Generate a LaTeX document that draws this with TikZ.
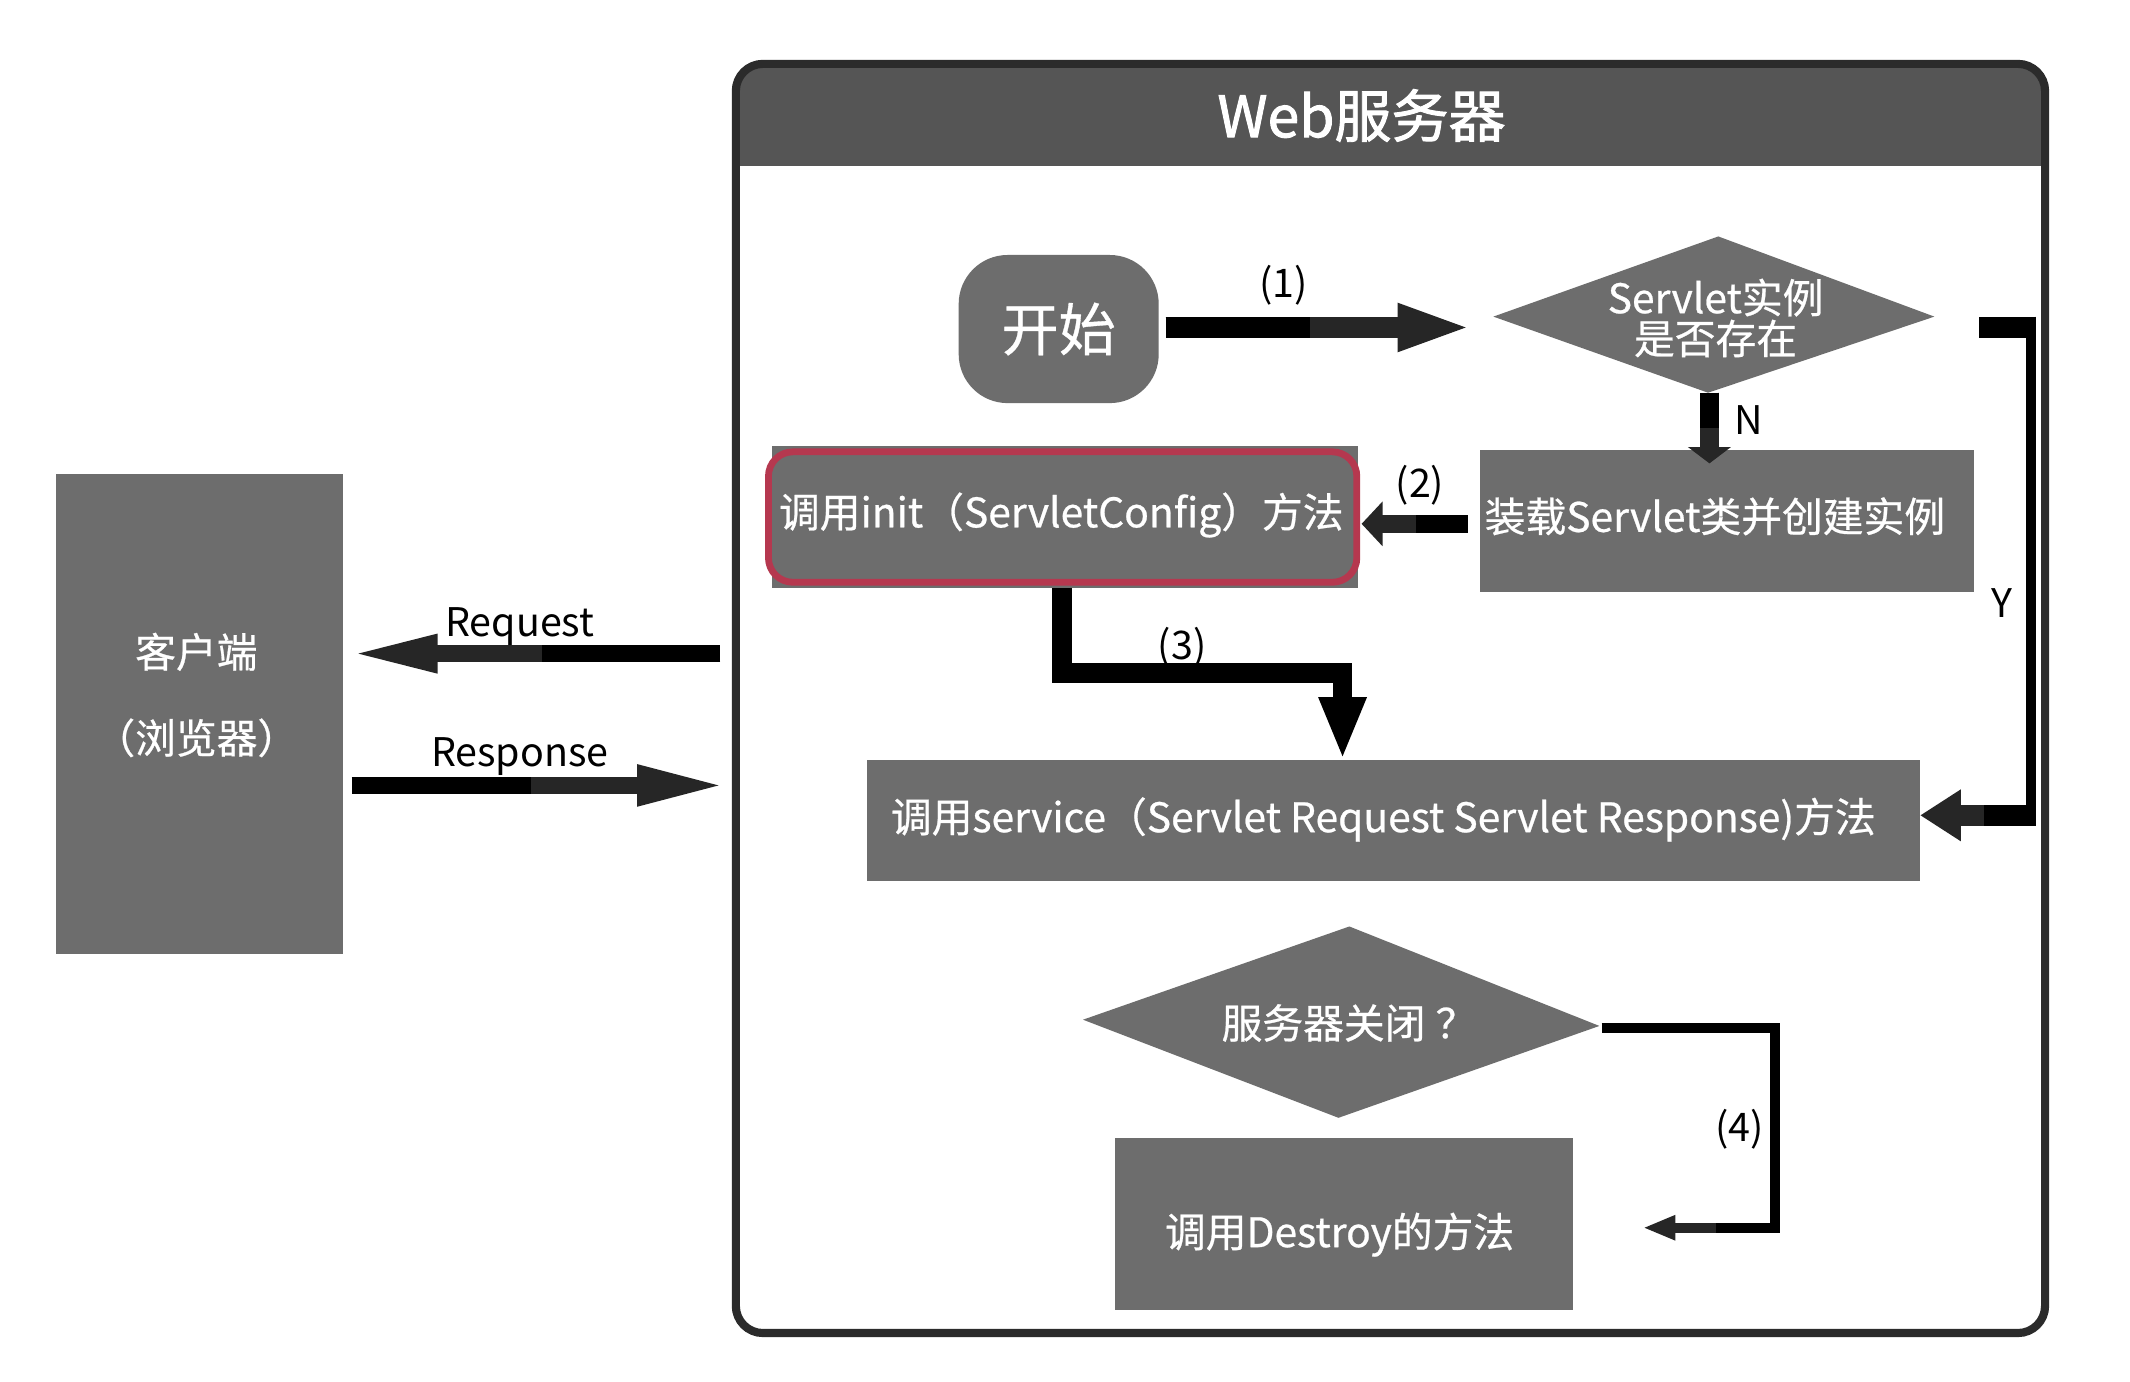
\documentclass[tikz,border=0pt]{standalone}
\usepackage{fontspec}
\setmainfont{Noto Sans CJK SC}
\newfontfamily\medfont{Noto Sans CJK SC}[FakeBold=0.6]
\newfontfamily\titlefont{Noto Sans CJK SC}[FakeBold=1.6]
\usetikzlibrary{arrows.meta}
\definecolor{boxgray}{HTML}{6D6D6D}
\definecolor{headgray}{HTML}{555555}
\definecolor{framec}{HTML}{2B2B2B}
\definecolor{initred}{HTML}{B5384F}
\definecolor{tipc}{HTML}{262626}
\begin{document}
\begin{tikzpicture}[x=0.5pt,y=-0.5pt,
  boxnode/.style={fill=boxgray,draw=none,text=white,inner sep=0pt,
    font=\medfont\fontsize{15}{18}\selectfont},
  txt/.style={text=white,inner sep=0pt,font=\medfont\fontsize{15}{19}\selectfont,align=center},
  lbl/.style={text=black,inner sep=0pt,font=\fontsize{14.5}{17}\selectfont},
  conn/.style={draw=tipc,line join=miter,line cap=butt},
  blk/.style={draw=black,line join=miter,line cap=butt}]
\useasboundingbox (0,0) rectangle (1567.5,1017);
\fill[white] (0,0) rectangle (1567.5,1017);

% ---- Web server frame ----
\begin{scope}
  \clip[rounded corners=10pt] (541.5,47) rectangle (1505,981);
  \fill[headgray] (541.5,47) rectangle (1505,122);
\end{scope}
\draw[framec,line width=3pt,rounded corners=10pt] (541.5,47) rectangle (1505,981);
\node[text=white,inner sep=0pt,font=\titlefont\fontsize{21}{24}\selectfont] (title) at (1002,85) {Web服务器};

% ---- client ----
\node[boxnode,minimum width=105.75pt,minimum height=176.35pt] (client) at (146.75,525.35) {};
\node[txt] (clienta) at (144.5,479.7) {客户端};
\node[txt] (clientb) at (144.5,543) {（浏览器）};

% ---- start ----
\node[boxnode,minimum width=73.6pt,minimum height=54.5pt,rounded corners=18pt,
      font=\medfont\fontsize{21}{24}\selectfont] (start) at (779.1,242.15) {开始};

% ---- decision: servlet exists ----
\coordinate (d1l) at (1099,233);
\coordinate (d1t) at (1264.5,174);
\coordinate (d1r) at (1423.5,233);
\coordinate (d1b) at (1257,289);
\fill[boxgray] (d1l) -- (d1t) -- (d1r) -- (d1b) -- cycle;
\node[txt,font=\medfont\fontsize{15}{15}\selectfont] (d1) at (1262.5,234) {Servlet实例\\是否存在};

% ---- init ----
\fill[boxgray] (568,328) rectangle (999,432.6);
\node[boxnode,draw=initred,line width=2.5pt,rounded corners=9pt,
      minimum width=216.5pt,minimum height=48pt] (init) at (782,380.5) {};
\node[txt] (initt) at (781,379) {调用init（ServletConfig）方法};

% ---- load ----
\node[boxnode,minimum width=182pt,minimum height=52.25pt] (load) at (1271,383.25) {};
\node[txt] (loadt) at (1262,380) {装载Servlet类并创建实例};

% ---- service ----
\node[boxnode,minimum width=387.5pt,minimum height=44.5pt] (service) at (1025.5,603.5) {};
\node[txt] (servicet) at (1018,603) {调用service（Servlet Request Servlet Response)方法};

% ---- decision: shutdown ----
\coordinate (d2l) at (797,750.4);
\coordinate (d2t) at (993,681.8);
\coordinate (d2r) at (1177,755);
\coordinate (d2b) at (985,822.6);
\fill[boxgray] (d2l) -- (d2t) -- (d2r) -- (d2b) -- cycle;
\node[txt] (d2) at (989,752.8) {服务器关闭\hspace{0.25em}？\hspace{-0.25em}};

% ---- destroy ----
\node[boxnode,minimum width=168.25pt,minimum height=63.2pt] (destroy) at (989,900.6) {};
\node[txt] (destroyt) at (985.8,908.6) {调用Destroy的方法};

% ---- connectors ----
% (1)
\coordinate (a1s) at (857.8,241);
\coordinate (a1m) at (964.3,241);
\coordinate (a1e) at (1083.7,241);
\draw[conn,line width=7.7pt,-{Triangle[length=27.6pt,width=15.7pt]}] (a1s) -- (a1e);
\draw[blk,line width=7.7pt] (a1s) -- (a1m);
\node[lbl] (l1) at (944.6,209.7) {(1)};
% N
\coordinate (ns) at (1258,289);
\coordinate (nm) at (1258,315);
\coordinate (ne) at (1258,341);
\draw[conn,line width=7pt,-{Triangle[length=6pt,width=15.5pt]}] (ns) -- (ne);
\draw[blk,line width=7pt] (ns) -- (nm);
\node[lbl] (ln) at (1287,309) {N};
% (2)
\coordinate (b2s) at (1080,385.5);
\coordinate (b2m) at (1042,385.5);
\coordinate (b2e) at (1002,385.5);
\draw[conn,line width=6.7pt,-{Triangle[length=7.7pt,width=16pt]}] (b2s) -- (b2e);
\draw[blk,line width=6.7pt] (b2s) -- (b2m);
\node[lbl] (l2) at (1045,357) {(2)};
% (3)
\coordinate (c3s) at (781.5,432.6);
\coordinate (c3m) at (988,495);
\coordinate (c3e) at (988,559);
\draw[blk,line width=7.3pt,-{Triangle[length=23pt,width=16pt]}] (c3s) |- (c3m) -- (c3e);
\node[lbl] (l3) at (870,476) {(3)};
% Y
\coordinate (ys) at (1456.7,241);
\coordinate (yt) at (1498,241);
\coordinate (yv1) at (1494.5,233);
\coordinate (yv2) at (1494.5,607);
\coordinate (yb) at (1498,600);
\coordinate (ym) at (1460,600);
\coordinate (ye) at (1413,600);
\draw[blk,line width=7.7pt] (ys) -- (yt);
\draw[blk,line width=3.5pt] (yv1) -- (yv2);
\draw[conn,line width=7.7pt,-{Triangle[length=15pt,width=18pt]}] (yb) -- (ye);
\draw[blk,line width=7.7pt] (yb) -- (ym);
\node[lbl] (ly) at (1473,443.6) {Y};
% (4)
\coordinate (c4s) at (1178.6,756.5);
\coordinate (c4a) at (1306,756.5);
\coordinate (c4b) at (1306,903.5);
\coordinate (c4m) at (1263,903.5);
\coordinate (c4e) at (1209,903.5);
\draw[conn,line width=3.7pt,-{Triangle[length=12pt,width=8.5pt]}] (c4m) -- (c4e);
\draw[blk,line width=3.7pt] (c4s) -- (c4a) -- (c4b) -- (c4m);
\node[lbl] (l4) at (1280,831) {(4)};
% Request / Response
\coordinate (rqs) at (530,481);
\coordinate (rqm) at (398.5,481);
\coordinate (rqe) at (255,481);
\draw[conn,line width=6.3pt,-{Triangle[length=33.5pt,width=12.5pt]}] (rqs) -- (rqe);
\draw[blk,line width=6.3pt] (rqs) -- (rqm);
\node[lbl,anchor=base] (lrq) at (382.5,468.6) {Request};
\coordinate (rss) at (259,578);
\coordinate (rsm) at (391,578);
\coordinate (rse) at (535.8,578);
\draw[conn,line width=6.3pt,-{Triangle[length=33.5pt,width=13.5pt]}] (rss) -- (rse);
\draw[blk,line width=6.3pt] (rss) -- (rsm);
\node[lbl,anchor=base] (lrs) at (382.5,564) {Response};
\end{tikzpicture}
\end{document}
